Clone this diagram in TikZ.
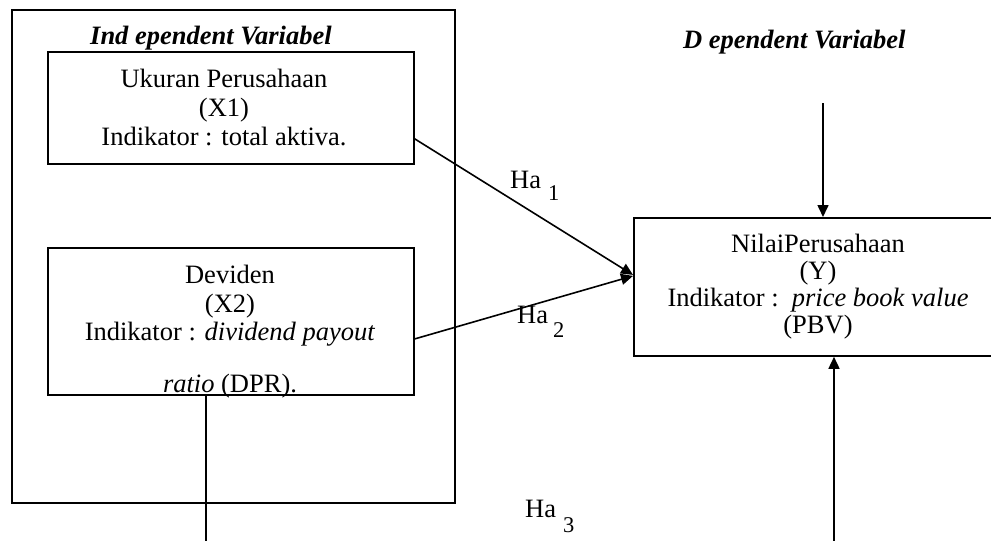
\documentclass[tikz,border=0pt]{standalone}
\usepackage{fontspec}
\setmainfont{Liberation Serif}
\usetikzlibrary{arrows.meta,calc}
\begin{document}
\begin{tikzpicture}[x=1pt,y=-1pt,
  box/.style={draw,line width=1.8pt,inner sep=0pt,anchor=north west},
  txt/.style={inner sep=0pt,align=center,anchor=north},
  lbl/.style={inner sep=0pt,anchor=base west,font=\fontsize{26.5}{28.5}\selectfont},
  head/.style={inner sep=0pt,anchor=base west,font=\fontsize{26.5}{28.5}\selectfont\bfseries\itshape},
  conn/.style={line width=1.6pt},
  arr/.style={conn,-{Triangle[length=12pt,width=11pt]}}]
\useasboundingbox (0,0) rectangle (991,541);
\clip (0,0) rectangle (991,541);
% boxes
\node[box,minimum width=443pt,minimum height=493pt] (indep) at (11,9) {};
\node[box,minimum width=366pt,minimum height=112pt] (x1) at (47,51) {};
\node[box,minimum width=366pt,minimum height=147pt] (x2) at (47,247) {};
\node[box,minimum width=370pt,minimum height=138pt] (y) at (633,217) {};
% headings
\node[head] (hind) at (90,44) {Ind ependent Variabel};
\node[head] (hdep) at (683,48) {D ependent Variabel};
% box texts
\node[txt,font=\fontsize{26.5}{29}\selectfont] (t1) at (224,69)
  {Ukuran Perusahaan\\(X1)\\Indikator : total aktiva.};
\node[txt,font=\fontsize{26.5}{28.5}\selectfont] (t2) at (230,265)
  {Deviden\\(X2)\\Indikator : \textit{dividend payout}\\[23.5pt]\textit{ratio} (DPR).};
\node[txt,font=\fontsize{26.5}{27}\selectfont] (ty) at (818,234)
  {NilaiPerusahaan\\(Y)\\Indikator :\ \ \textit{price book value}\\(PBV)};
% hypothesis labels
\node[lbl] (ha1) at (510,188) {Ha\hspace{7pt}\raisebox{-12pt}{\fontsize{22.5}{22}\selectfont 1}};
\node[lbl] (ha2) at (517,323) {Ha\hspace{5pt}\raisebox{-14pt}{\fontsize{22.5}{22}\selectfont 2}};
\node[lbl] (ha3) at (525,517) {Ha\hspace{7pt}\raisebox{-15pt}{\fontsize{22.5}{22}\selectfont 3}};
% connectors
\draw[arr] ($(x1.east)+(0,31)$) -- ($(y.west)+(0,-12)$);
\draw[arr] ($(x2.east)+(0,17.5)$) -- ($(y.west)+(0,-11)$);
\coordinate (ytop) at (823,103);
\draw[arr] (ytop) -- (ytop |- y.north);
\coordinate (ybot) at (834,541);
\draw[arr] (ybot) -- (ybot |- y.south);
\coordinate (x2end) at (206,541);
\draw[conn] (x2end |- x2.south) -- (x2end);
\end{tikzpicture}
\end{document}
